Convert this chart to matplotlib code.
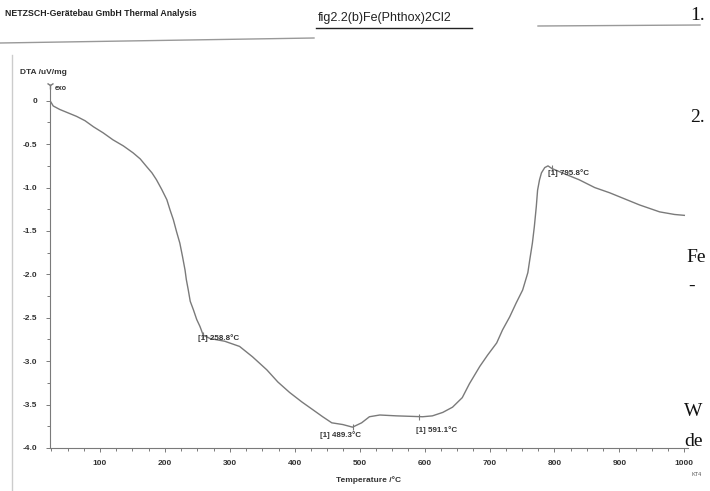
import matplotlib
matplotlib.use("Agg")
import matplotlib.pyplot as plt
from matplotlib.lines import Line2D
from matplotlib.ticker import MultipleLocator

# DTA curve
temp = [24, 28, 38, 51, 64, 77, 90, 105, 120, 136, 151, 162, 172, 180, 187,
        195, 203, 208, 213, 218, 223, 227, 231, 233, 236, 239, 244, 249, 254,
        259, 270, 292, 315, 335, 357, 374, 392, 411, 428, 443, 457, 474, 489,
        503, 515, 531, 557, 597, 612, 628, 643, 658, 669, 685, 697, 711, 720,
        731, 741, 751, 759, 762, 766, 769, 772, 774, 777, 780, 785, 790, 796,
        815, 838, 862, 885, 908, 931, 962, 985, 1000]
dta = [-0.01, -0.06, -0.10, -0.14, -0.18, -0.23, -0.30, -0.37, -0.45, -0.52,
       -0.60, -0.67, -0.76, -0.83, -0.91, -1.02, -1.14, -1.26, -1.37, -1.51,
       -1.64, -1.79, -1.95, -2.06, -2.18, -2.31, -2.41, -2.52, -2.60, -2.70,
       -2.74, -2.77, -2.83, -2.95, -3.10, -3.24, -3.36, -3.47, -3.56, -3.64,
       -3.71, -3.73, -3.76, -3.71, -3.64, -3.62, -3.63, -3.64, -3.63, -3.59,
       -3.53, -3.42, -3.26, -3.06, -2.93, -2.79, -2.64, -2.49, -2.33, -2.18,
       -1.98, -1.83, -1.64, -1.45, -1.22, -1.03, -0.91, -0.83, -0.77, -0.75,
       -0.78, -0.84, -0.91, -1.00, -1.06, -1.13, -1.20, -1.28, -1.31, -1.32]

# peak annotations
peak_t = [258.8, 489.3, 591.1, 795.8]
peak_v = [-2.70, -3.76, -3.64, -0.78]
peak_lbl = ["[1] 258.8°C", "[1] 489.3°C", "[1] 591.1°C", "[1] 795.8°C"]
peak_off = [(-3.5, -2), (-8.5, -6), (-2, -9.5), (-3, -3)]
peak_ha = ["left", "center", "left", "left"]

xticks = [100, 200, 300, 400, 500, 600, 700, 800, 900, 1000]
yticks = [0, -0.5, -1.0, -1.5, -2.0, -2.5, -3.0, -3.5, -4.0]

gray = "#7a7a7a"
dark = "#333333"

fig = plt.figure(figsize=(7.1, 4.91), dpi=100)
ax = fig.add_axes([0.0704, 0.0876, 0.898, 0.739])

ax.plot(temp, dta, color=gray, lw=1.0)
for t, v, lbl, off, ha in zip(peak_t, peak_v, peak_lbl, peak_off, peak_ha):
    ax.plot([t], [v], marker="|", ms=4, color=gray, mew=0.8)
    ax.annotate(lbl, (t, v), xytext=off, textcoords="offset points",
                ha=ha, va="center", fontsize=5.8, fontweight="bold",
                color=dark, family="Liberation Sans")

ax.set_xlim(23, 1005)
ax.set_ylim(-4.0, 0.18)
ax.set_xticks(xticks)
ax.set_xticklabels([str(t) for t in xticks])
ax.set_yticks(yticks)
ax.set_yticklabels(["0"] + ["%.1f" % v for v in yticks[1:]])
ax.xaxis.set_minor_locator(MultipleLocator(25))
ax.yaxis.set_minor_locator(MultipleLocator(0.25))
ax.tick_params(which="both", color=gray, width=0.7, labelsize=6, labelcolor=dark)
ax.tick_params(which="major", length=3, pad=6)
ax.tick_params(which="minor", length=2)
for lab in ax.get_xticklabels() + ax.get_yticklabels():
    lab.set_fontweight("bold")
    lab.set_family("Liberation Sans")

for s in ["top", "right"]:
    ax.spines[s].set_visible(False)
for s in ["left", "bottom"]:
    ax.spines[s].set_color(gray)
    ax.spines[s].set_linewidth(0.8)

ax.set_xlabel("Temperature /°C", fontsize=6, fontweight="bold", color=dark,
              family="Liberation Sans", labelpad=6)

# axis head and units
ax.plot([0], [1.0], transform=ax.transAxes, marker="1", ms=6, color=gray,
        clip_on=False)
fig.text(20 / 710, 1 - 73 / 491, "DTA /uV/mg", fontsize=6, fontweight="bold",
         color=dark, family="Liberation Sans", va="center")
fig.text(55 / 710, 1 - 88 / 491, "exo", fontsize=5, fontweight="bold",
         color=dark, family="Liberation Sans", va="center")

# page header from the scanned report
fig.text(5 / 710, 1 - 13 / 491, "NETZSCH-Gerätebau GmbH Thermal Analysis",
         fontsize=6.3, fontweight="bold", color="#222222",
         family="Liberation Sans", va="center")
fig.text(318 / 710, 1 - 18 / 491, "fig2.2(b)Fe(Phthox)2Cl2", fontsize=9,
         color="#222222", family="Liberation Sans", va="center")
fig.add_artist(Line2D([316 / 710, 472 / 710], [1 - 28 / 491, 1 - 28 / 491],
                      color="#222222", lw=1.0))
fig.add_artist(Line2D([0, 314 / 710], [1 - 43 / 491, 1 - 38 / 491],
                      color="#999999", lw=1.0))
fig.add_artist(Line2D([538 / 710, 700 / 710], [1 - 26 / 491, 1 - 25 / 491],
                      color="#999999", lw=1.0))
fig.add_artist(Line2D([12 / 710, 12 / 710], [0, 1 - 55 / 491],
                      color="#cccccc", lw=1.0))

# fragments of the neighbouring document page
for txt, px, py in [("1.", 690, 15), ("2.", 690, 118), ("Fe", 686, 258),
                    ("-", 688, 286), ("W", 684, 412), ("de", 684, 441)]:
    fig.text(px / 710, 1 - py / 491, txt, fontsize=14, color="#111111",
             family="Liberation Serif", va="center")
fig.text(692 / 710, 1 - 474 / 491, "KT4", fontsize=4, color="#555555",
         family="Liberation Sans", va="center")

fig.savefig("out.png", dpi=100)
